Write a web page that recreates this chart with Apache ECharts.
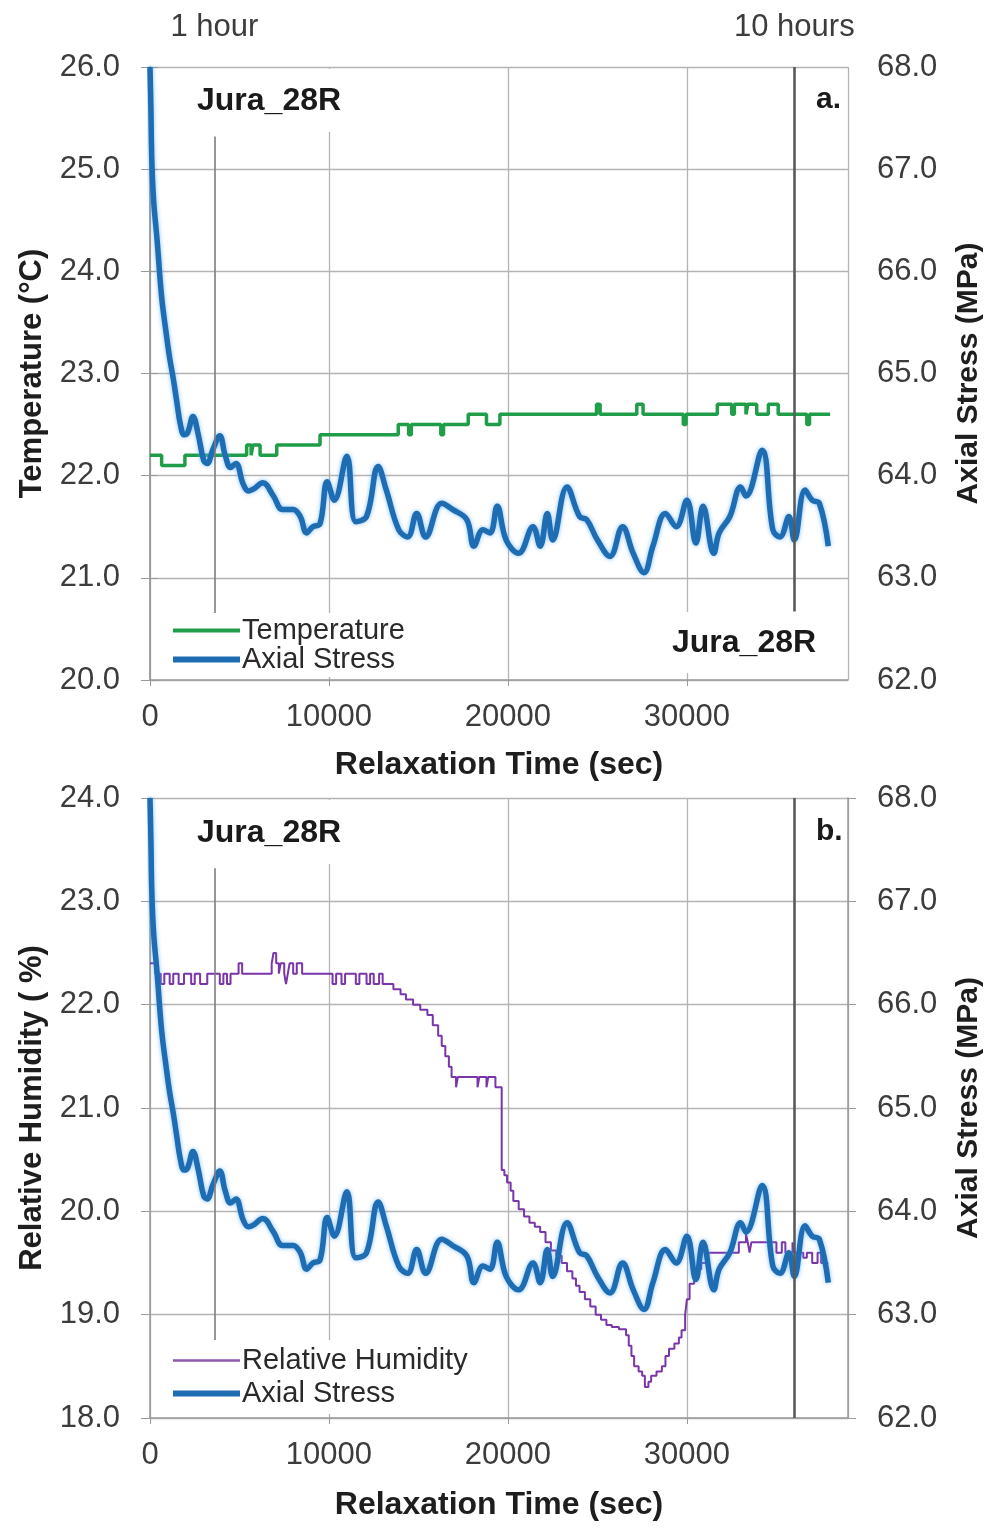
<!DOCTYPE html>
<html><head><meta charset="utf-8">
<script src="https://cdn.jsdelivr.net/npm/echarts@6/dist/echarts.min.js"></script>
<style>html,body{margin:0;padding:0;background:#fff}#c{width:1000px;height:1529px}</style>
</head><body><div id="c"></div>
<script>
// ---- data (time in sec) ----
const HOUR_MARKS = [3600, 36000];
const HOUR_LABELS = ['1 hour', '10 hours'];
const X_TICKS_MAX = 39000;

const stressData = [
 [0,68.0],[50,67.6],[100,67.1],[200,66.7],[400,66.3],[650,65.75],[900,65.4],[1100,65.15],[1300,64.95],
 [1500,64.72],[1700,64.5],[1900,64.40],[2100,64.42],[2400,64.58],[2700,64.40],[3000,64.15],[3200,64.12],
 [3500,64.25],[3900,64.39],[4200,64.2],[4500,64.08],[4800,64.12],[5200,63.92],[5500,63.85],[5800,63.87],
 [6300,63.93],[6900,63.80],[7400,63.67],[8000,63.67],[8400,63.6],[8750,63.44],[9100,63.50],[9500,63.53],
 [9900,63.94],[10300,63.76],[11000,64.19],[11500,63.55],[12100,63.60],[12750,64.09],[13200,63.86],
 [13900,63.47],[14400,63.40],[14900,63.63],[15400,63.40],[16300,63.73],[16900,63.67],[17700,63.57],
 [18100,63.31],[18600,63.47],[19000,63.44],[19400,63.70],[19900,63.37],[20600,63.24],[21400,63.50],
 [21800,63.31],[22200,63.63],[22500,63.37],[23300,63.89],[24000,63.60],[24400,63.57],[25000,63.37],
 [25700,63.21],[26400,63.50],[27000,63.24],[27600,63.05],[28100,63.31],[28800,63.63],[29400,63.50],
 [30000,63.76],[30500,63.34],[30900,63.70],[31500,63.24],[31800,63.44],[32400,63.60],[33000,63.89],
 [33300,63.80],[34200,64.25],[34800,63.47],[35200,63.40],[35700,63.60],[36000,63.37],[36600,63.86],
 [37000,63.76],[37400,63.73],[37900,63.31]
];

const temperatureData = [
 [0,22.2],[650,22.1],[1950,22.2],[5400,22.3],[5650,22.2],[5750,22.3],[6150,22.2],[7080,22.3],[9500,22.4],
 [13870,22.5],[14450,22.4],[14600,22.5],[16250,22.4],[16400,22.5],[17780,22.6],[18800,22.5],[19550,22.6],
 [24950,22.7],[25150,22.6],[27200,22.7],[27550,22.6],[29800,22.5],[29950,22.6],[31700,22.7],[32500,22.6],
 [32650,22.7],[33300,22.6],[33400,22.7],[33900,22.6],[34550,22.7],[35100,22.6],[36700,22.5],[36850,22.6],
 [38000,22.6]
];

const humidityData = [
 [0,22.4],[300,22.3],[600,22.2],[800,22.3],[1100,22.2],[1300,22.3],[1600,22.2],[1900,22.3],[2300,22.2],
 [2500,22.3],[2800,22.2],[3200,22.3],[3900,22.2],[4100,22.3],[4300,22.2],[4500,22.3],[4950,22.4],[5150,22.3],
 [6800,22.4],[6900,22.5],[7050,22.4],[7200,22.3],[7300,22.4],[7500,22.3],[7600,22.2],[7700,22.3],[7800,22.4],
 [8000,22.3],[8200,22.4],[8500,22.3],[10200,22.2],[10400,22.3],[10700,22.2],[10900,22.3],[11500,22.2],
 [11700,22.3],[12100,22.2],[12300,22.3],[12500,22.2],[12800,22.3],[13000,22.2],[13600,22.15],[14000,22.1],
 [14300,22.05],[14700,22.0],[15100,21.95],[15500,21.9],[15800,21.8],[16100,21.7],[16300,21.6],[16500,21.5],
 [16700,21.4],[16850,21.3],[17100,21.2],[17200,21.3],[18300,21.2],[18400,21.3],[18800,21.2],[18900,21.3],
 [19300,21.2],[19650,20.4],[19800,20.35],[19950,20.28],[20150,20.2],[20300,20.1],[20600,20.02],[20900,19.95],
 [21200,19.89],[21500,19.85],[21800,19.8],[22100,19.7],[22400,19.62],[22700,19.57],[23000,19.5],[23300,19.42],
 [23600,19.35],[23800,19.28],[24000,19.22],[24300,19.15],[24600,19.08],[24900,19.0],[25200,18.95],
 [25500,18.9],[25800,18.88],[26200,18.86],[26600,18.8],[26750,18.7],[26900,18.6],[27050,18.5],[27300,18.45],
 [27500,18.41],[27650,18.3],[27850,18.35],[28000,18.41],[28300,18.45],[28600,18.5],[28800,18.6],
 [29000,18.67],[29300,18.72],[29550,18.78],[29700,18.85],[29900,19.0],[30000,19.15],[30150,19.3],
 [30400,19.44],[30800,19.5],[31200,19.6],[32900,19.7],[33300,19.78],[33400,19.7],[33500,19.6],[33600,19.7],
 [35000,19.6],[35300,19.7],[35500,19.6],[35900,19.7],[36000,19.6],[36500,19.55],[36700,19.6],[37000,19.5],
 [37300,19.6],[37500,19.5],[37900,19.5]
];

const tempTicks = {min: 20, max: 26};
const rhTicks = {min: 18, max: 24};
const stressTicks = {min: 62, max: 68};

// ---- styles ----
const FONT = "'Liberation Sans', Arial, sans-serif";
const GRID_COLOR = '#b4b4b4';
const AXIS_COLOR = '#9a9a9a';
const LABEL_COLOR = '#3c3c3c';
const TITLE_COLOR = '#1e1e1e';
const GREEN = '#1f9d48';
const BLUE = '#1e6cb2';
const PURPLE = '#7a35a8';

const fmt1 = v => v.toFixed(1);

function xAxisBottom(gi, nameGap) {
  return {
    gridIndex: gi, type: 'value', min: 0, max: X_TICKS_MAX, interval: 10000, position: 'bottom',
    axisLine: {show: true, onZero: false, lineStyle: {color: AXIS_COLOR, width: 1.5}},
    axisTick: {show: true, length: 6, lineStyle: {color: AXIS_COLOR}},
    axisLabel: {fontSize: 31, fontFamily: FONT, color: LABEL_COLOR, margin: 22, showMaxLabel: false,
                formatter: v => String(v)},
    splitLine: {show: true, lineStyle: {color: GRID_COLOR, width: 1.3}},
    name: 'Relaxation Time (sec)', nameLocation: 'middle', nameGap: nameGap,
    nameTextStyle: {fontSize: 32, fontWeight: 'bold', fontFamily: FONT, color: TITLE_COLOR}
  };
}
function yLeft(gi, rng, name) {
  return {
    gridIndex: gi, type: 'value', min: rng.min, max: rng.max, interval: 1, position: 'left',
    axisLine: {show: true, lineStyle: {color: AXIS_COLOR, width: 1.5}},
    axisTick: {show: true, length: 9, lineStyle: {color: AXIS_COLOR}},
    axisLabel: {formatter: fmt1, fontSize: 31, fontFamily: FONT, color: LABEL_COLOR, margin: 30},
    splitLine: {show: true, lineStyle: {color: GRID_COLOR, width: 1.3}},
    name: name, nameLocation: 'middle', nameRotate: 90, nameGap: 102,
    nameTextStyle: {fontSize: 31, fontWeight: 'bold', fontFamily: FONT, color: TITLE_COLOR}
  };
}
function yRight(gi) {
  return {
    gridIndex: gi, type: 'value', min: stressTicks.min, max: stressTicks.max, interval: 1, position: 'right',
    axisLine: {show: true, lineStyle: {color: AXIS_COLOR, width: 1.5}},
    axisTick: {show: true, length: 8, lineStyle: {color: AXIS_COLOR}},
    axisLabel: {formatter: fmt1, fontSize: 31, fontFamily: FONT, color: LABEL_COLOR, margin: 29},
    splitLine: {show: false},
    name: 'Axial Stress (MPa)', nameLocation: 'middle', nameRotate: 90, nameGap: 106,
    nameTextStyle: {fontSize: 30, fontWeight: 'bold', fontFamily: FONT, color: TITLE_COLOR}
  };
}

const stressLine = {color: BLUE, width: 5.5, shadowColor: 'rgba(90,170,255,0.75)', shadowBlur: 4};

function hourMarkLine(y1, y2, yFull1, yFull2) {
  return {
    silent: true, symbol: ['none', 'none'], label: {show: false}, animation: false,
    data: [
      [{coord: [HOUR_MARKS[0], y1], lineStyle: {color: '#7d7d7d', width: 1.6, type: 'solid'}},
       {coord: [HOUR_MARKS[0], y2]}],
      [{coord: [HOUR_MARKS[1], yFull1], lineStyle: {color: '#5a5a5a', width: 2.6, type: 'solid'}},
       {coord: [HOUR_MARKS[1], yFull2]}]
    ]
  };
}

const textBox = (text, left, top, size, pad) => ({
  type: 'text', left: left, top: top, z: 10,
  style: {text: text, font: `bold ${size}px ${FONT}`, fill: '#1a1a1a',
          backgroundColor: '#ffffff', padding: pad}
});

const option = {
  animation: false,
  backgroundColor: '#ffffff',
  grid: [
    {left: 150, width: 698, top: 67, height: 613},
    {left: 150, width: 698, top: 798, height: 620}
  ],
  xAxis: [
    xAxisBottom(0, 69),
    {gridIndex: 0, type: 'value', position: 'top', min: 0, max: X_TICKS_MAX,
     axisLine: {show: false}, axisTick: {show: false}, splitLine: {show: false},
     axisLabel: {customValues: HOUR_MARKS, fontSize: 31, fontFamily: FONT, color: LABEL_COLOR, margin: 24,
                 showMinLabel: true, showMaxLabel: true,
                 formatter: v => { const i = HOUR_MARKS.indexOf(v); return i >= 0 ? HOUR_LABELS[i] : ''; }}},
    xAxisBottom(1, 71)
  ],
  yAxis: [
    yLeft(0, tempTicks, 'Temperature (°C)'),
    yRight(0),
    yLeft(1, rhTicks, 'Relative Humidity ( %)'),
    yRight(1)
  ],
  legend: [
    {orient: 'vertical', left: 152, top: 613, itemGap: 0, itemWidth: 67, itemHeight: 6,
     padding: [3, 14, 3, 21], backgroundColor: '#ffffff', z: 10,
     textStyle: {fontSize: 29, fontFamily: FONT, color: '#2a2a2a', lineHeight: 27, padding: [0, 0, 0, -3]},
     data: [
       {name: 'Temperature', icon: 'path://M0,0L67,0L67,4L0,4Z'},
       {name: 'Axial Stress', icon: 'path://M0,0L67,0L67,6L0,6Z'}
     ]},
    {orient: 'vertical', left: 152, top: 1340, itemGap: 0, itemWidth: 67, itemHeight: 6,
     padding: [4, 14, 4, 21], backgroundColor: '#ffffff', z: 10,
     textStyle: {fontSize: 29, fontFamily: FONT, color: '#2a2a2a', lineHeight: 33, padding: [0, 0, 0, -3]},
     data: [
       {name: 'Relative Humidity', icon: 'path://M0,0L67,0L67,2.5L0,2.5Z', itemStyle: {color: '#8a5aa8'}},
       {name: 'Axial Stress', icon: 'path://M0,0L67,0L67,6L0,6Z'}
     ]}
  ],
  graphic: [
    textBox('Jura_28R', 185, 69, 32, [16, 8, 15, 12]),
    textBox('a.', 816, 85, 30, [0, 0, 0, 0]),
    textBox('Jura_28R', 656, 612, 32, [15, 17, 14, 16]),
    textBox('Jura_28R', 185, 800, 32, [17, 8, 15, 12]),
    textBox('b.', 816, 817, 30, [0, 0, 0, 0])
  ],
  series: [
    {name: 'Temperature', type: 'line', xAxisIndex: 0, yAxisIndex: 0, step: 'end', symbol: 'none',
     data: temperatureData, color: GREEN, lineStyle: {color: GREEN, width: 3.5}, z: 3,
     markLine: hourMarkLine(25.32, 20.63, 26, 20.67)},
    {name: 'Axial Stress', type: 'line', xAxisIndex: 0, yAxisIndex: 1, smooth: 0.4, symbol: 'none',
     data: stressData, color: BLUE, lineStyle: stressLine, z: 4},
    {name: 'Relative Humidity', type: 'line', xAxisIndex: 2, yAxisIndex: 2, step: 'end', symbol: 'none',
     data: humidityData, color: PURPLE, lineStyle: {color: PURPLE, width: 2}, z: 3,
     markLine: hourMarkLine(23.32, 18.72, 24, 18)},
    {name: 'Axial Stress', type: 'line', xAxisIndex: 2, yAxisIndex: 3, smooth: 0.4, symbol: 'none',
     data: stressData, color: BLUE, lineStyle: stressLine, z: 4}
  ]
};

const chart = echarts.init(document.getElementById('c'), null, {renderer: 'canvas'});
chart.setOption(option);
</script></body></html>
